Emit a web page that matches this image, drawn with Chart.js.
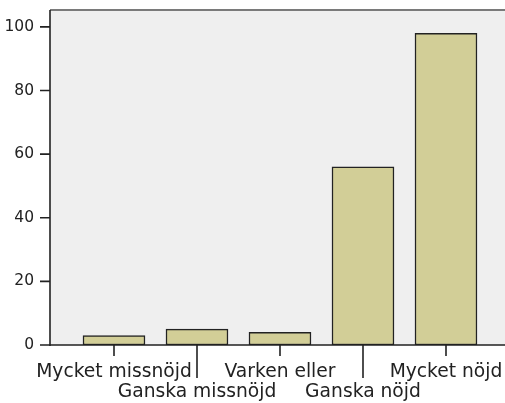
<!DOCTYPE html>
<html>
<head>
<meta charset="utf-8">
<script src="https://cdn.jsdelivr.net/npm/chart.js@4"></script>
<style>
  html, body { margin: 0; padding: 0; background: #fff; }
  #wrap { width: 505px; height: 403px; }
</style>
</head>
<body>
<div id="wrap"><canvas id="grafico" width="505" height="403"></canvas></div>
<script>
// categorias e valores
var categorias = ['Mycket missnöjd', 'Ganska missnöjd', 'Varken eller', 'Ganska nöjd', 'Mycket nöjd'];
var valores = [3, 5, 4, 56, 98];
var ticksY = [0, 20, 40, 60, 80, 100];

var corTexto = '#222222';

// fundo cinza, linhas dos eixos e marcas
var eixosPlugin = {
    id: 'eixos',
    beforeDraw: function (chart) {
        var ctx = chart.ctx;
        var a = chart.chartArea;
        ctx.save();
        ctx.fillStyle = '#efefef';
        ctx.fillRect(a.left, a.top, a.right - a.left, a.bottom - a.top);
        // borda de cima
        ctx.strokeStyle = '#7a7a7a';
        ctx.lineWidth = 2;
        ctx.beginPath();
        ctx.moveTo(a.left, a.top);
        ctx.lineTo(a.right, a.top);
        ctx.stroke();
        ctx.restore();
    },
    afterDatasetsDraw: function (chart) {
        var ctx = chart.ctx;
        var a = chart.chartArea;
        var sx = chart.scales.x;
        var sy = chart.scales.y;
        ctx.save();
        ctx.strokeStyle = corTexto;
        ctx.lineWidth = 1.6;
        ctx.beginPath();
        ctx.moveTo(a.left, a.top);
        ctx.lineTo(a.left, a.bottom + 1);
        ctx.moveTo(a.left, a.bottom);
        ctx.lineTo(a.right, a.bottom);
        // marcas do eixo y
        for (var i = 0; i < ticksY.length; i++) {
            var py = sy.getPixelForValue(ticksY[i]);
            ctx.moveTo(a.left - 10, py);
            ctx.lineTo(a.left, py);
        }
        // marcas do eixo x (alternando curta e longa)
        for (var j = 0; j < categorias.length; j++) {
            var px = Math.round(sx.getPixelForValue(j));
            ctx.moveTo(px, a.bottom);
            ctx.lineTo(px, a.bottom + (j % 2 ? 33 : 11));
        }
        ctx.stroke();
        ctx.restore();
    }
};

const ctx1 = document.getElementById('grafico');

new Chart(ctx1, {
    type: 'bar',
    data: {
        datasets: [{
            data: valores.map(function (v, i) { return { x: i, y: v }; }),
            backgroundColor: '#d2ce97',
            borderColor: '#222222',
            borderWidth: 1.5,
            borderSkipped: false,
            barThickness: 62
        }]
    },
    options: {
        responsive: false,
        animation: false,
        layout: { padding: { top: 10, right: 0, left: 0, bottom: 0 } },
        plugins: { legend: { display: false }, tooltip: { enabled: false } },
        scales: {
            x: {
                type: 'linear',
                offset: false,
                min: -0.771,
                max: 4.711,
                grid: { display: false, offset: false },
                border: { display: false },
                afterBuildTicks: function (scale) {
                    scale.ticks = categorias.map(function (c, i) { return { value: i }; });
                },
                afterFit: function (scale) {
                    scale.height = 58;
                    scale.paddingLeft = 0;
                    scale.paddingRight = 0;
                },
                ticks: {
                    autoSkip: false,
                    maxRotation: 0,
                    minRotation: 0,
                    padding: 9,
                    color: corTexto,
                    font: { family: 'DejaVu Sans', size: 18.7, lineHeight: 1.07 },
                    callback: function (v, i) {
                        return i % 2 ? ['', categorias[i]] : categorias[i];
                    }
                }
            },
            y: {
                min: 0,
                max: 105.3,
                grid: { display: false },
                border: { display: false },
                afterBuildTicks: function (scale) {
                    scale.ticks = ticksY.map(function (v) { return { value: v }; });
                },
                afterFit: function (scale) {
                    scale.width = 50;
                    scale.paddingTop = 0;
                    scale.paddingBottom = 0;
                },
                ticks: {
                    padding: 8,
                    color: corTexto,
                    font: { family: 'DejaVu Sans', size: 15.5 }
                }
            }
        }
    },
    plugins: [eixosPlugin]
});
</script>
</body>
</html>
